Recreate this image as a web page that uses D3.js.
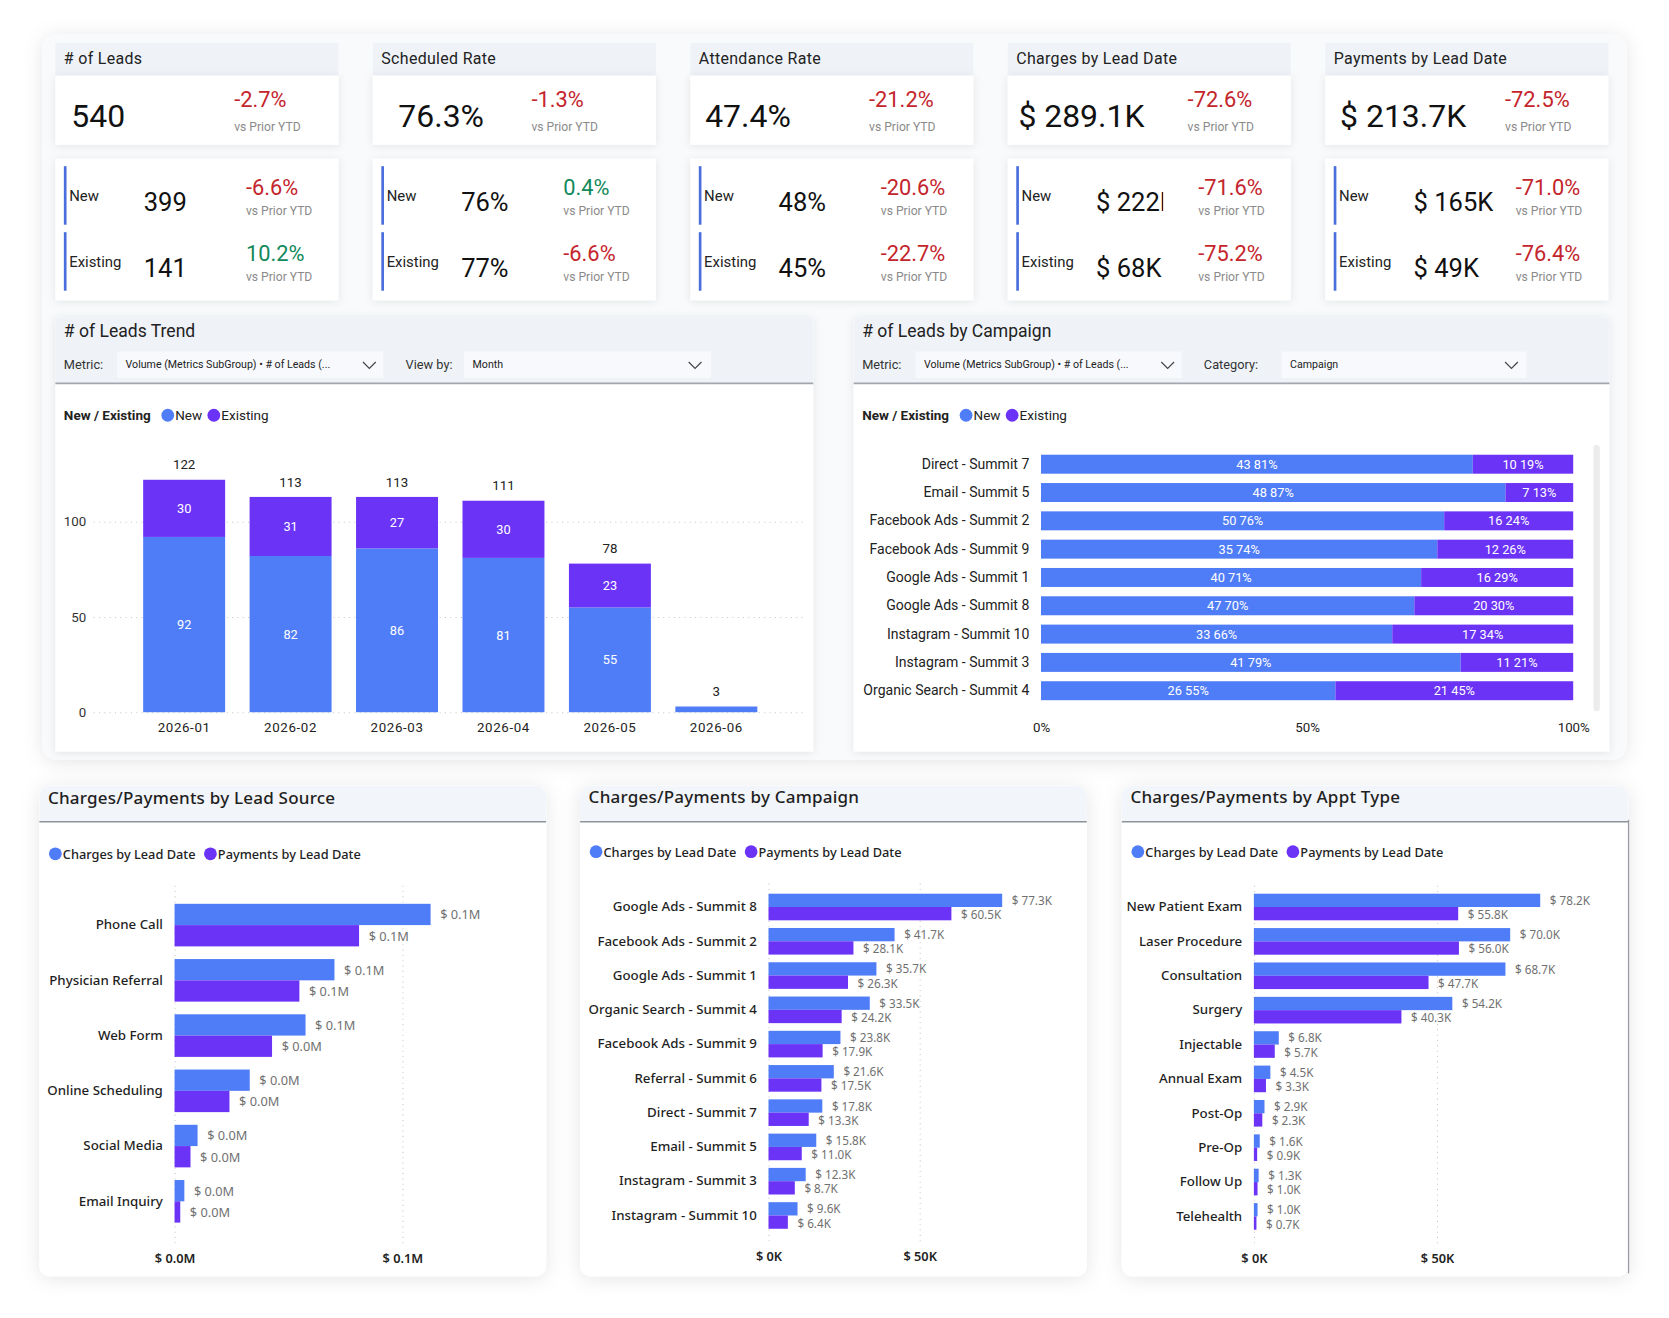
<!DOCTYPE html>
<html>
<head>
<meta charset="utf-8">
<script src="https://cdn.jsdelivr.net/npm/d3@7"></script>
<style>
  body { margin: 0; background: #ffffff; }
  svg { display: block; font-family: Roboto, "Noto Sans", sans-serif; }
  .bt { font-family: "Noto Sans", "Open Sans", sans-serif; }
</style>
</head>
<body>
<script>
// ---- KPI cards
const kpiTitles = ["# of Leads", "Scheduled Rate", "Attendance Rate", "Charges by Lead Date", "Payments by Lead Date"];
const kpiTotals = ["540", "76.3%", "47.4%", "$ 289.1K", "$ 213.7K"];
const kpiTotalDelta = [-2.7, -1.3, -21.2, -72.6, -72.5];
const kpiNew = ["399", "76%", "48%", "$ 222K", "$ 165K"];
const kpiNewDelta = [-6.6, 0.4, -20.6, -71.6, -71.0];
const kpiExisting = ["141", "77%", "45%", "$ 68K", "$ 49K"];
const kpiExistingDelta = [10.2, -6.6, -22.7, -75.2, -76.4];

// ---- # of Leads Trend
const months = ["2026-01", "2026-02", "2026-03", "2026-04", "2026-05", "2026-06"];
const monthNew = [92, 82, 86, 81, 55, 3];
const monthExisting = [30, 31, 27, 30, 23, 0];

// ---- # of Leads by Campaign
const campaigns = ["Direct - Summit 7", "Email - Summit 5", "Facebook Ads - Summit 2", "Facebook Ads - Summit 9",
  "Google Ads - Summit 1", "Google Ads - Summit 8", "Instagram - Summit 10", "Instagram - Summit 3", "Organic Search - Summit 4"];
const campaignNew = [43, 48, 50, 35, 40, 47, 33, 41, 26];
const campaignExisting = [10, 7, 16, 12, 16, 20, 17, 11, 21];

// ---- Charges / Payments (in $K)
const sources = ["Phone Call", "Physician Referral", "Web Form", "Online Scheduling", "Social Media", "Email Inquiry"];
const sourceCharges = [112.4, 70.2, 57.5, 33.0, 10.1, 4.3];
const sourcePayments = [81.0, 54.8, 42.8, 24.1, 7.0, 2.5];

const campaignsCP = ["Google Ads - Summit 8", "Facebook Ads - Summit 2", "Google Ads - Summit 1", "Organic Search - Summit 4",
  "Facebook Ads - Summit 9", "Referral - Summit 6", "Direct - Summit 7", "Email - Summit 5", "Instagram - Summit 3", "Instagram - Summit 10"];
const campaignCharges = [77.3, 41.7, 35.7, 33.5, 23.8, 21.6, 17.8, 15.8, 12.3, 9.6];
const campaignPayments = [60.5, 28.1, 26.3, 24.2, 17.9, 17.5, 13.3, 11.0, 8.7, 6.4];

const apptTypes = ["New Patient Exam", "Laser Procedure", "Consultation", "Surgery", "Injectable", "Annual Exam",
  "Post-Op", "Pre-Op", "Follow Up", "Telehealth"];
const apptCharges = [78.2, 70.0, 68.7, 54.2, 6.8, 4.5, 2.9, 1.6, 1.3, 1.0];
const apptPayments = [55.8, 56.0, 47.7, 40.3, 5.7, 3.3, 2.3, 0.9, 1.0, 0.7];

const blue = "#4f7df7";
const purple = "#6b33f6";
const red = "#c4242b";
const green = "#12895a";
const bandColor = "#eff3f8";

const svg = d3.select("body").append("svg")
  .attr("width", 1669).attr("height", 1318)
  .attr("viewBox", "0 0 1568 1238");

const defs = svg.append("defs");
const f = defs.append("filter").attr("id", "sh").attr("x", "-10%").attr("y", "-10%").attr("width", "120%").attr("height", "120%");
f.append("feDropShadow").attr("dx", 0).attr("dy", 1).attr("stdDeviation", 4)
  .attr("flood-color", "#000").attr("flood-opacity", 0.09);
const f2 = defs.append("filter").attr("id", "sh2").attr("x", "-10%").attr("y", "-10%").attr("width", "120%").attr("height", "120%");
f2.append("feDropShadow").attr("dx", 0).attr("dy", 2).attr("stdDeviation", 9)
  .attr("flood-color", "#000").attr("flood-opacity", 0.10);

function fmtDelta(v) {
  return (v < 0 ? "-" : "") + Math.abs(v).toFixed(1) + "%";
}

function chevron(g, x, y) {
  g.append("path")
    .attr("d", `M${x - 6},${y - 3} L${x},${y + 3} L${x + 6},${y - 3}`)
    .attr("fill", "none").attr("stroke", "#444").attr("stroke-width", 1.1);
}

// top backdrop panel
svg.append("rect").attr("x", 40).attr("y", 32).attr("width", 1488).attr("height", 682)
  .attr("rx", 14).attr("fill", "#f9fafb").attr("filter", "url(#sh2)");

// ---------- KPI cards
const kpi = svg.append("g");
const deltaOffset = [168, 149, 168, 169, 169];
const totalOffset = [15, 24, 14, 10, 14];
const valueClip = [0, 0, 0, 63, 0];
kpiTitles.forEach((t, i) => {
  const x0 = 52 + i * 298.25;
  const g = kpi.append("g");
  g.append("rect").attr("x", x0).attr("y", 40).attr("width", 266).attr("height", 31).attr("fill", bandColor);
  g.append("text").attr("x", x0 + 8).attr("y", 55).attr("dominant-baseline", "central")
    .attr("font-size", 15).attr("fill", "#222").attr("letter-spacing", 0.3).text(t);

  g.append("rect").attr("x", x0).attr("y", 71).attr("width", 266).attr("height", 65)
    .attr("fill", "#fff").attr("filter", "url(#sh)");
  g.append("text").attr("x", x0 + totalOffset[i]).attr("y", 109).attr("dominant-baseline", "central")
    .attr("font-size", 30).attr("fill", "#111").text(kpiTotals[i]);
  const dx = x0 + deltaOffset[i];
  g.append("text").attr("x", dx).attr("y", 93).attr("dominant-baseline", "central")
    .attr("font-size", 20.5).attr("fill", kpiTotalDelta[i] < 0 ? red : green).text(fmtDelta(kpiTotalDelta[i]));
  g.append("text").attr("x", dx).attr("y", 119).attr("dominant-baseline", "central")
    .attr("font-size", 11.4).attr("fill", "#8a8a8a").text("vs Prior YTD");

  g.append("rect").attr("x", x0).attr("y", 149).attr("width", 266).attr("height", 133)
    .attr("fill", "#fff").attr("filter", "url(#sh)");
  const clipId = "vclip" + i;
  defs.append("clipPath").attr("id", clipId).append("rect")
    .attr("x", x0 + 60).attr("y", 150)
    .attr("width", valueClip[i] ? 23 + valueClip[i] : 110).attr("height", 130);
  const rows = [
    { label: "New", value: kpiNew[i], delta: kpiNewDelta[i], y: 156 },
    { label: "Existing", value: kpiExisting[i], delta: kpiExistingDelta[i], y: 218 }
  ];
  rows.forEach(r => {
    g.append("rect").attr("x", x0 + 8).attr("y", r.y).attr("width", 2.5).attr("height", 55).attr("fill", "#4a6fdc");
    g.append("text").attr("x", x0 + 13).attr("y", r.y + 28).attr("dominant-baseline", "central")
      .attr("font-size", 14).attr("fill", "#222").text(r.label);
    g.append("text").attr("x", x0 + 83).attr("y", r.y + 34).attr("dominant-baseline", "central")
      .attr("clip-path", `url(#${clipId})`)
      .attr("font-size", 24).attr("fill", "#111").text(r.value);
    g.append("text").attr("x", x0 + 179).attr("y", r.y + 20).attr("dominant-baseline", "central")
      .attr("font-size", 20.5).attr("fill", r.delta < 0 ? red : green).text(fmtDelta(r.delta));
    g.append("text").attr("x", x0 + 179).attr("y", r.y + 42).attr("dominant-baseline", "central")
      .attr("font-size", 11.4).attr("fill", "#8a8a8a").text("vs Prior YTD");
  });
});

// ---------- chart panel header helper
function chartPanel(x, w, title, opts) {
  const g = svg.append("g");
  g.append("rect").attr("x", x).attr("y", 298).attr("width", w).attr("height", 408)
    .attr("fill", "#fff").attr("filter", "url(#sh)");
  g.append("rect").attr("x", x).attr("y", 298).attr("width", w).attr("height", 62).attr("fill", bandColor);
  g.append("line").attr("x1", x).attr("x2", x + w).attr("y1", 360).attr("y2", 360)
    .attr("stroke", "#a3a7ad").attr("stroke-width", 1.6);
  g.append("text").attr("x", x + 8).attr("y", 311).attr("dominant-baseline", "central")
    .attr("font-size", 16.5).attr("fill", "#222").text(title);
  // dropdown boxes
  g.append("rect").attr("x", x + 58).attr("y", 330).attr("width", 250).attr("height", 25).attr("fill", "#f7f9fc");
  g.append("rect").attr("x", opts.box2).attr("y", 330).attr("width", opts.box2w).attr("height", 25).attr("fill", "#f7f9fc");
  g.append("text").attr("x", x + 8).attr("y", 342).attr("dominant-baseline", "central")
    .attr("font-size", 12).attr("fill", "#333").text("Metric:");
  g.append("text").attr("x", x + 66).attr("y", 342).attr("dominant-baseline", "central")
    .attr("font-size", 10).attr("fill", "#222").text("Volume (Metrics SubGroup) \u2022 # of Leads (...");
  chevron(g, x + opts.chev1, 343);
  g.append("text").attr("x", opts.lab2x).attr("y", 342).attr("dominant-baseline", "central")
    .attr("font-size", 12).attr("fill", "#333").text(opts.lab2);
  g.append("text").attr("x", opts.val2x).attr("y", 342).attr("dominant-baseline", "central")
    .attr("font-size", 10).attr("fill", "#222").text(opts.val2);
  chevron(g, opts.chev2, 343);
  // legend
  const lg = g.append("text").attr("x", x + 8).attr("y", 390).attr("dominant-baseline", "central")
    .attr("font-size", 12.7).attr("font-weight", 700).attr("fill", "#222").text("New / Existing");
  let lx = x + 8 + lg.node().getComputedTextLength() + 10;
  [["New", blue], ["Existing", purple]].forEach(([n, c]) => {
    g.append("circle").attr("cx", lx + 6).attr("cy", 390).attr("r", 6).attr("fill", c);
    const t = g.append("text").attr("x", lx + 13).attr("y", 390).attr("dominant-baseline", "central")
      .attr("font-size", 12.7).attr("fill", "#222").text(n);
    lx += 13 + t.node().getComputedTextLength() + 5;
  });
  return g;
}

// ---------- # of Leads Trend
const tg = chartPanel(52, 712, "# of Leads Trend",
  { box2: 436, box2w: 232, chev1: 295, lab2: "View by:", lab2x: 381, val2: "Month", val2x: 444, chev2: 653 });

const xT = d3.scaleBand().domain(months).range([123, 723]).paddingInner(0.23).paddingOuter(0.115);
const yT = d3.scaleLinear().domain([0, 100]).range([669, 490]);

const yAxisT = tg.append("g").attr("transform", "translate(88,0)")
  .call(d3.axisLeft(yT).tickValues([0, 50, 100]).tickSize(-670).tickPadding(7));
yAxisT.select(".domain").remove();
yAxisT.selectAll(".tick line").attr("stroke", "#c8c8c8").attr("stroke-dasharray", "1,4");
yAxisT.selectAll(".tick text").attr("font-size", 12.5).attr("fill", "#333").attr("font-family", "Roboto");

const trendData = months.map((m, i) => ({ m, n: monthNew[i], e: monthExisting[i] }));
tg.selectAll(".bn").data(trendData).enter().append("rect")
  .attr("x", d => xT(d.m)).attr("width", xT.bandwidth())
  .attr("y", d => yT(d.n)).attr("height", d => yT(0) - yT(d.n)).attr("fill", blue);
tg.selectAll(".be").data(trendData.filter(d => d.e > 0)).enter().append("rect")
  .attr("x", d => xT(d.m)).attr("width", xT.bandwidth())
  .attr("y", d => yT(d.n + d.e)).attr("height", d => yT(d.n) - yT(d.n + d.e)).attr("fill", purple);
tg.selectAll(".ln").data(trendData.filter(d => d.n >= 5)).enter().append("text")
  .attr("x", d => xT(d.m) + xT.bandwidth() / 2).attr("y", d => (yT(0) + yT(d.n)) / 2)
  .attr("text-anchor", "middle").attr("dominant-baseline", "central")
  .attr("font-size", 12).attr("fill", "#fff").text(d => d.n);
tg.selectAll(".le").data(trendData.filter(d => d.e > 0)).enter().append("text")
  .attr("x", d => xT(d.m) + xT.bandwidth() / 2).attr("y", d => (yT(d.n) + yT(d.n + d.e)) / 2)
  .attr("text-anchor", "middle").attr("dominant-baseline", "central")
  .attr("font-size", 12).attr("fill", "#fff").text(d => d.e);
tg.selectAll(".lt").data(trendData).enter().append("text")
  .attr("x", d => xT(d.m) + xT.bandwidth() / 2).attr("y", d => yT(d.n + d.e) - 14)
  .attr("text-anchor", "middle").attr("dominant-baseline", "central")
  .attr("font-size", 12.5).attr("fill", "#222").text(d => d.n + d.e);

const xAxisT = tg.append("g").attr("transform", "translate(0,669)")
  .call(d3.axisBottom(xT).tickSize(0).tickPadding(10));
xAxisT.select(".domain").remove();
xAxisT.selectAll("text").attr("font-size", 12.5).attr("fill", "#222").attr("font-family", "Roboto").attr("letter-spacing", 0.6);

// ---------- # of Leads by Campaign
const cg = chartPanel(802, 710, "# of Leads by Campaign",
  { box2: 1204, box2w: 230, chev1: 295, lab2: "Category:", lab2x: 1131, val2: "Campaign", val2x: 1212, chev2: 1420 });

const xC = d3.scaleLinear().domain([0, 1]).range([978, 1478]);
const yC = d3.scaleBand().domain(campaigns).range([422.7, 662.1]).paddingInner(0.33).paddingOuter(0.165);

cg.append("rect").attr("x", 1497).attr("y", 418).attr("width", 6).attr("height", 250).attr("rx", 3).attr("fill", "#ececec");

const campData = campaigns.map((c, i) => {
  const tot = campaignNew[i] + campaignExisting[i];
  return { c, n: campaignNew[i], e: campaignExisting[i], pn: campaignNew[i] / tot, pe: campaignExisting[i] / tot };
});
cg.selectAll(".cn").data(campData).enter().append("rect")
  .attr("x", xC(0)).attr("y", d => yC(d.c)).attr("height", yC.bandwidth())
  .attr("width", d => xC(d.pn) - xC(0)).attr("fill", blue);
cg.selectAll(".ce").data(campData).enter().append("rect")
  .attr("x", d => xC(d.pn)).attr("y", d => yC(d.c)).attr("height", yC.bandwidth())
  .attr("width", d => xC(1) - xC(d.pn)).attr("fill", purple);
cg.selectAll(".cnl").data(campData).enter().append("text")
  .attr("x", d => (xC(0) + xC(d.pn)) / 2).attr("y", d => yC(d.c) + yC.bandwidth() / 2)
  .attr("text-anchor", "middle").attr("dominant-baseline", "central")
  .attr("font-size", 12).attr("fill", "#fff").text(d => `${d.n} ${Math.round(d.pn * 100)}%`);
cg.selectAll(".cel").data(campData).enter().append("text")
  .attr("x", d => (xC(d.pn) + xC(1)) / 2).attr("y", d => yC(d.c) + yC.bandwidth() / 2)
  .attr("text-anchor", "middle").attr("dominant-baseline", "central")
  .attr("font-size", 12).attr("fill", "#fff").text(d => `${d.e} ${Math.round(d.pe * 100)}%`);

const yAxisC = cg.append("g").attr("transform", `translate(${xC(0)},0)`)
  .call(d3.axisLeft(yC).tickSize(0).tickPadding(11));
yAxisC.select(".domain").remove();
yAxisC.selectAll("text").attr("font-size", 13.2).attr("fill", "#222").attr("font-family", "Roboto");

const xAxisC = cg.append("g").attr("transform", "translate(0,669)")
  .call(d3.axisBottom(xC).tickValues([0, 0.5, 1]).tickFormat(d3.format(".0%")).tickSize(0).tickPadding(10));
xAxisC.select(".domain").remove();
xAxisC.selectAll("text").attr("font-size", 12.5).attr("fill", "#222").attr("font-family", "Roboto");

// ---------- Charges / Payments panels
function cpPanel(cfg) {
  const g = svg.append("g").attr("class", "bt");
  g.append("rect").attr("x", cfg.x).attr("y", 738).attr("width", cfg.w).attr("height", 461)
    .attr("rx", 10).attr("fill", "#fff").attr("filter", "url(#sh2)");
  g.append("path")
    .attr("d", `M${cfg.x},772 V748 a10,10 0 0 1 10,-10 H${cfg.x + cfg.w - 10} a10,10 0 0 1 10,10 V772 Z`)
    .attr("fill", "#f2f5f9");
  g.append("line").attr("x1", cfg.x).attr("x2", cfg.x + cfg.w).attr("y1", 772).attr("y2", 772)
    .attr("stroke", "#8e9399").attr("stroke-width", 1.4);
  if (cfg.rightLine) {
    g.append("line").attr("x1", cfg.x + cfg.w).attr("x2", cfg.x + cfg.w).attr("y1", 770).attr("y2", 1196)
      .attr("stroke", "#9a9ea4").attr("stroke-width", 1.2);
  }
  g.append("text").attr("x", cfg.x + 8).attr("y", cfg.titleY).attr("dominant-baseline", "central")
    .attr("font-size", 16).attr("font-weight", 500).attr("fill", "#1f1f1f").attr("letter-spacing", 0.2).text(cfg.title);

  let lx = cfg.x + 9;
  [["Charges by Lead Date", blue], ["Payments by Lead Date", purple]].forEach(([n, c]) => {
    g.append("circle").attr("cx", lx + 6).attr("cy", cfg.legendY).attr("r", 6).attr("fill", c);
    const t = g.append("text").attr("x", lx + 13).attr("y", cfg.legendY).attr("dominant-baseline", "central")
      .attr("font-size", 12).attr("font-weight", 500).attr("fill", "#222").text(n);
    lx += 13 + t.node().getComputedTextLength() + 8;
  });

  const x = d3.scaleLinear().domain([0, cfg.tick]).range([cfg.zero, cfg.tickX]);
  const step = cfg.step;
  const y = d3.scaleBand().domain(cfg.cats)
    .range([cfg.first - step / 2, cfg.first - step / 2 + step * cfg.cats.length])
    .paddingInner(1 - cfg.bw / step).paddingOuter((1 - cfg.bw / step) / 2);

  // gridlines
  const grid = g.append("g").attr("transform", `translate(0,${cfg.axisY})`)
    .call(d3.axisBottom(x).tickValues([0, cfg.tick]).tickSize(-(cfg.axisY - cfg.gridTop)).tickFormat(cfg.tickFmt).tickPadding(10));
  grid.select(".domain").remove();
  grid.selectAll(".tick line").attr("stroke", "#c9c9c9").attr("stroke-dasharray", "1,4");
  grid.selectAll(".tick text").attr("y", cfg.tickLabelY - cfg.axisY).attr("dy", "0.35em")
    .attr("font-size", 12).attr("font-weight", 600).attr("fill", "#222").attr("font-family", "Noto Sans");

  const data = cfg.cats.map((c, i) => ({ c, ch: cfg.charges[i], pa: cfg.payments[i] }));
  const hb = y.bandwidth() / 2;
  g.selectAll(".ch").data(data).enter().append("rect")
    .attr("x", x(0)).attr("y", d => y(d.c)).attr("height", hb)
    .attr("width", d => x(d.ch) - x(0)).attr("fill", blue);
  g.selectAll(".pa").data(data).enter().append("rect")
    .attr("x", x(0)).attr("y", d => y(d.c) + hb).attr("height", hb)
    .attr("width", d => x(d.pa) - x(0)).attr("fill", purple);
  g.selectAll(".chl").data(data).enter().append("text")
    .attr("x", d => x(d.ch) + 9).attr("y", d => y(d.c) + hb / 2 - cfg.valShift)
    .attr("dominant-baseline", "central").attr("font-size", cfg.valSize).attr("fill", "#707070")
    .text(d => cfg.valFmt(d.ch));
  g.selectAll(".pal").data(data).enter().append("text")
    .attr("x", d => x(d.pa) + 9).attr("y", d => y(d.c) + hb * 1.5 + cfg.valShift)
    .attr("dominant-baseline", "central").attr("font-size", cfg.valSize).attr("fill", "#707070")
    .text(d => cfg.valFmt(d.pa));

  const ya = g.append("g").attr("transform", `translate(${x(0)},0)`)
    .call(d3.axisLeft(y).tickSize(0).tickPadding(11));
  ya.select(".domain").remove();
  ya.selectAll("text").attr("font-size", 12.5).attr("font-weight", 500).attr("fill", "#1f1f1f").attr("font-family", "Noto Sans");
}

const fmtM = v => "$ " + (v / 1000).toFixed(1) + "M";
const fmtK = v => "$ " + v.toFixed(1) + "K";

cpPanel({
  x: 37, w: 476, title: "Charges/Payments by Lead Source", titleY: 749, legendY: 802,
  cats: sources, charges: sourceCharges, payments: sourcePayments,
  zero: 164, tick: 100, tickX: 378, tickFmt: v => fmtM(v), valFmt: fmtM, valSize: 12, valShift: 0,
  first: 869, step: 51.9, bw: 40, gridTop: 830, axisY: 1168, tickLabelY: 1182
});
cpPanel({
  x: 545, w: 476, title: "Charges/Payments by Campaign", titleY: 748, legendY: 800,
  cats: campaignsCP, charges: campaignCharges, payments: campaignPayments,
  zero: 722, tick: 50, tickX: 864, tickFmt: v => "$ " + v + "K", valFmt: fmtK, valSize: 11, valShift: 0.4,
  first: 852, step: 32.2, bw: 25, gridTop: 830, axisY: 1166, tickLabelY: 1180
});
cpPanel({
  x: 1054, w: 476, title: "Charges/Payments by Appt Type", titleY: 748, legendY: 800,
  cats: apptTypes, charges: apptCharges, payments: apptPayments,
  zero: 1178, tick: 50, tickX: 1350, tickFmt: v => "$ " + v + "K", valFmt: fmtK, valSize: 11, valShift: 0.4,
  first: 852, step: 32.3, bw: 25, gridTop: 830, axisY: 1168, tickLabelY: 1182, rightLine: true
});
</script>
</body>
</html>
